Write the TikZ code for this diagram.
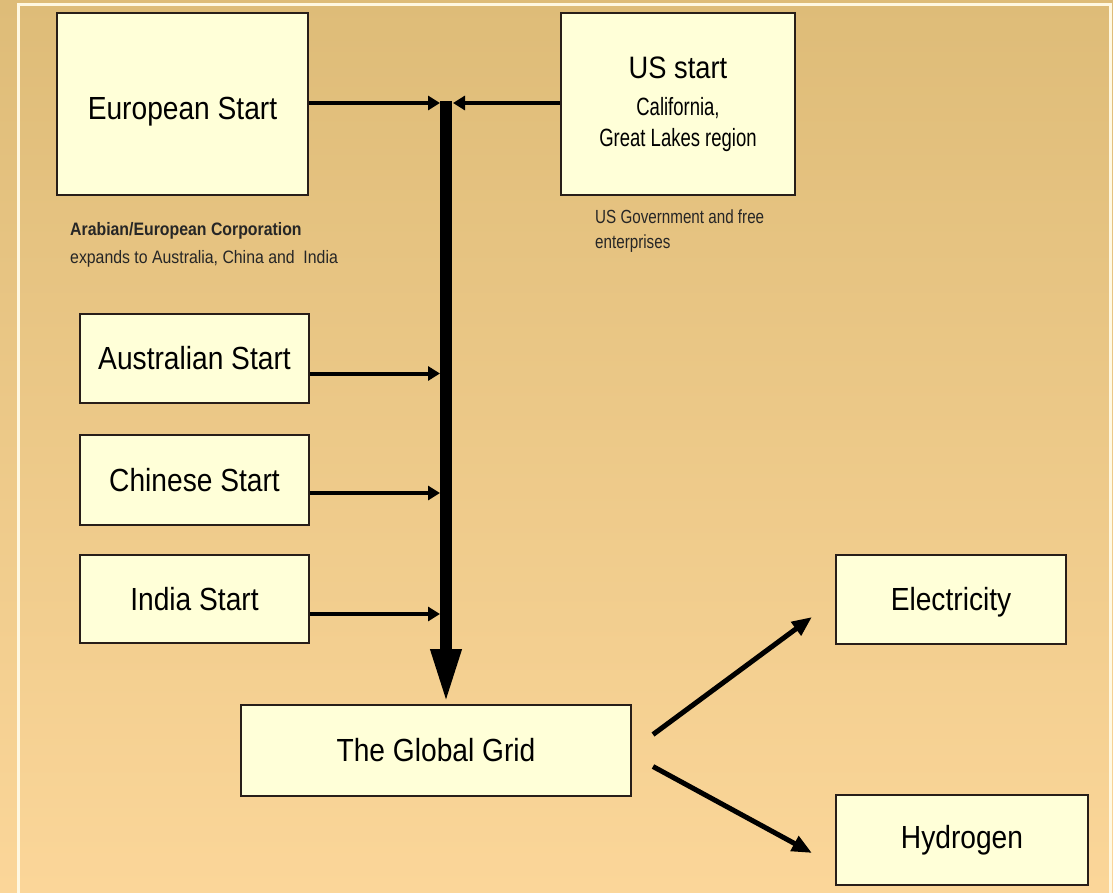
\documentclass[tikz,border=0pt]{standalone}
\usepackage{fontspec}
\setmainfont{Liberation Sans}
\newfontfamily\fa[FakeStretch=0.88]{Liberation Sans}
\newfontfamily\fb[FakeStretch=0.74]{Liberation Sans}
\newfontfamily\fcc[FakeStretch=0.80]{Liberation Sans}
\usetikzlibrary{arrows.meta}
\definecolor{bgtop}{RGB}{222,188,120}
\definecolor{bgbot}{RGB}{251,214,153}
\definecolor{boxfill}{RGB}{255,255,216}
\definecolor{edge}{RGB}{40,30,25}
\definecolor{frameline}{RGB}{255,248,225}
\begin{document}
\begin{tikzpicture}[x=1pt,y=-1pt,
  box/.style={draw=edge, line width=2pt, fill=boxfill, inner sep=0pt, anchor=center},
  big/.style={font=\fa\fontsize{32}{38}\selectfont},
  feed/.style={line width=4pt, draw=black, -{Triangle[length=12pt,width=14pt]}},
  trunk/.style={line width=12pt, draw=black, -{Triangle[length=55pt,width=28pt]}},
  outarrow/.style={line width=5pt, draw=black, -{Triangle[length=20pt,width=16pt]}},
  note/.style={inner sep=0pt, anchor=base west, text=black!85}]
\useasboundingbox (0,0) rectangle (1113,893);
\shade[top color=bgtop, bottom color=bgbot] (0,0) rectangle (1113,893);
\draw[frameline, line width=3pt] (18,893) -- (18,5) -- (1110,5) -- (1110,893);

% boxes
\node[box, big, minimum width=251pt, minimum height=182pt] (eu) at (182.5,104) {\raisebox{-8pt}[\height][\depth]{European Start}};
\node[box, minimum width=234pt, minimum height=182pt, align=center,
      font=\fb\fontsize{25}{31}\selectfont] (us) at (678,104)
      {{\fa\fontsize{31}{31}\selectfont US start}\\[6pt]California,\\Great Lakes region};
\node[box, big, minimum width=229pt, minimum height=89pt] (au) at (194.5,358.5) {Australian Start};
\node[box, big, minimum width=229pt, minimum height=90pt] (ch) at (194.5,480) {Chinese Start};
\node[box, big, minimum width=229pt, minimum height=88pt] (in) at (194.5,599) {India Start};
\node[box, big, minimum width=390pt, minimum height=91pt] (gg) at (436,750.5) {The Global Grid};
\node[box, big, minimum width=230pt, minimum height=89pt] (el) at (951,599.5) {\raisebox{-3pt}[\height][\depth]{Electricity}};
\node[box, big, minimum width=252pt, minimum height=90pt] (hy) at (962,840) {Hydrogen};

% notes
\node[note, font=\fa\bfseries\fontsize{18}{22}\selectfont] (n1) at (70,236) {Arabian/European Corporation};
\node[note, font=\fa\fontsize{18}{22}\selectfont] (n2) at (70,263) {expands to Australia, China and\ \ India};
\node[note, font=\fcc\fontsize{19}{22}\selectfont] (n3) at (595,224) {US Government and free};
\node[note, font=\fcc\fontsize{19}{22}\selectfont] (n4) at (595,249) {enterprises};

% connectors
\coordinate (top) at (446,101);
\coordinate (jl) at (440,103);
\coordinate (jr) at (453,103);
\draw[trunk] (top) -- (top |- gg.north);
\draw[feed] (eu.east |- jl) -- (jl);
\draw[feed] (us.west |- jr) -- (jr);
\draw[feed] ([yshift=-15pt]au.east) -- ([yshift=-15pt]au.east -| jl);
\draw[feed] ([yshift=-13pt]ch.east) -- ([yshift=-13pt]ch.east -| jl);
\draw[feed] ([yshift=-15pt]in.east) -- ([yshift=-15pt]in.east -| jl);
\draw[outarrow] ([xshift=21pt,yshift=16pt]gg.east) -- ([xshift=-23pt,yshift=28pt]el.south west);
\draw[outarrow] ([xshift=21pt,yshift=-16pt]gg.east) -- ([xshift=-23pt,yshift=-13pt]hy.west);
\end{tikzpicture}
\end{document}
